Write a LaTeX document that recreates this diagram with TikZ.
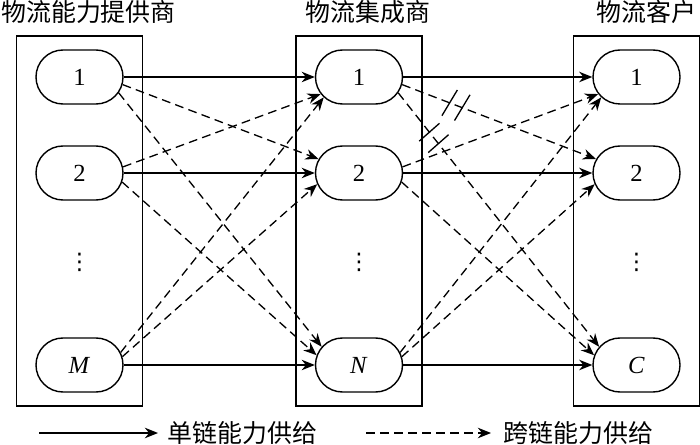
\documentclass[tikz,border=0pt]{standalone}
\usepackage{fontspec}
\setmainfont{Liberation Serif}
\newfontfamily\cjk{Noto Sans CJK SC}
\newfontfamily\symf{DejaVu Sans}
\usetikzlibrary{positioning, arrows.meta, fit, shapes.misc, calc}

\begin{document}
\begin{tikzpicture}[
    node distance=1.92cm, on grid,
    party/.style={draw, rounded rectangle, minimum width=1.74cm, minimum height=1.08cm,
                  font=\fontsize{14pt}{16pt}\selectfont, line width=0.8pt, inner sep=0pt},
    dotsn/.style={font=\symf\fontsize{13pt}{15pt}\selectfont, inner sep=0pt, yshift=0.14cm},
    group/.style={draw, line width=0.85pt, inner xsep=0.38cm, inner ysep=0.27cm},
    title/.style={font=\cjk\fontsize{14.2pt}{17pt}\selectfont, inner sep=0pt},
    arrow/.style={-{Stealth[length=7.5pt, width=6pt]}, line width=0.75pt},
    dasharrow/.style={arrow, dash pattern=on 5pt off 3pt},
    cutmark/.style={line width=0.75pt},
]
\useasboundingbox (0,0) rectangle (14,-8.9);

% capability providers
\node[party] (l1) at (1.59,-1.54) {1};
\node[party, below=of l1] (l2) {2};
\node[dotsn, below=of l2] (ld) {⋮};
\node[party, below=3.84cm of l2] (lM) {\textit{M}};

% integrators
\node[party, right=5.59cm of l1] (m1) {1};
\node[party, below=of m1] (m2) {2};
\node[dotsn, below=of m2] (md) {⋮};
\node[party, below=3.84cm of m2] (mN) {\textit{N}};

% customers
\node[party, right=5.55cm of m1] (r1) {1};
\node[party, below=of r1] (r2) {2};
\node[dotsn, below=of r2] (rd) {⋮};
\node[party, below=3.84cm of r2] (rC) {\textit{C}};

% groups
\node[group, fit=(l1)(lM)] (lbox) {};
\node[group, fit=(m1)(mN)] (mbox) {};
\node[group, fit=(r1)(rC)] (rbox) {};

\node[title, above=0.22cm of lbox.north, xshift=0.18cm] (lt) {物流能力提供商};
\node[title, above=0.22cm of mbox.north, xshift=0.18cm] (mt) {物流集成商};
\node[title, above=0.22cm of rbox.north, xshift=0.2cm] (rt) {物流客户};

% single-chain supply
\foreach \a/\b in {l1/m1, l2/m2, lM/mN, m1/r1, m2/r2, mN/rC}{
    \draw[arrow] (\a.east) -- (\b.west);
}

% cross-chain supply
\foreach \a/\s/\b/\t in {l1/-10/m2/161, l1/-22/mN/154, l2/8/m1/-156, l2/-12/mN/167,
                         lM/17/m1/-150, lM/11/m2/-165,
                         m1/-10/r2/161, m1/-22/rC/154, m2/8/r1/-156, m2/-12/rC/167,
                         mN/17/r1/-150, mN/11/r2/-165}{
    \draw[dasharrow] (\a.\s) -- (\b.\t);
}

% cut marks
\path (m1.-10) -- (r2.161) coordinate[pos=0.245] (k1) coordinate[pos=0.31] (k2);
\path (m1.-22) -- (rC.154) coordinate[pos=0.155] (k3) coordinate[pos=0.2] (k4);
\foreach \k/\e/\r/\h in {k1/r2.161/80/0.3cm, k2/r2.161/80/0.3cm, k3/rC.154/93/0.27cm, k4/rC.154/93/0.27cm}{
    \draw[cutmark] ($(\k)!\h!\r:(\e)$) -- ($(\k)!-\h!\r:(\e)$);
}

% legend
\coordinate (s1) at (0.78,-8.66);
\coordinate (s2) at (3.16,-8.66);
\coordinate (s3) at (7.32,-8.66);
\coordinate (s4) at (9.82,-8.66);
\draw[arrow] (s1) -- (s2);
\draw[dasharrow] (s3) -- (s4);
\node[title, anchor=west] (lga) at ($(s2)+(0.18,0)$) {单链能力供给};
\node[title, anchor=west] (lgb) at ($(s4)+(0.24,0)$) {跨链能力供给};

\end{tikzpicture}
\end{document}
